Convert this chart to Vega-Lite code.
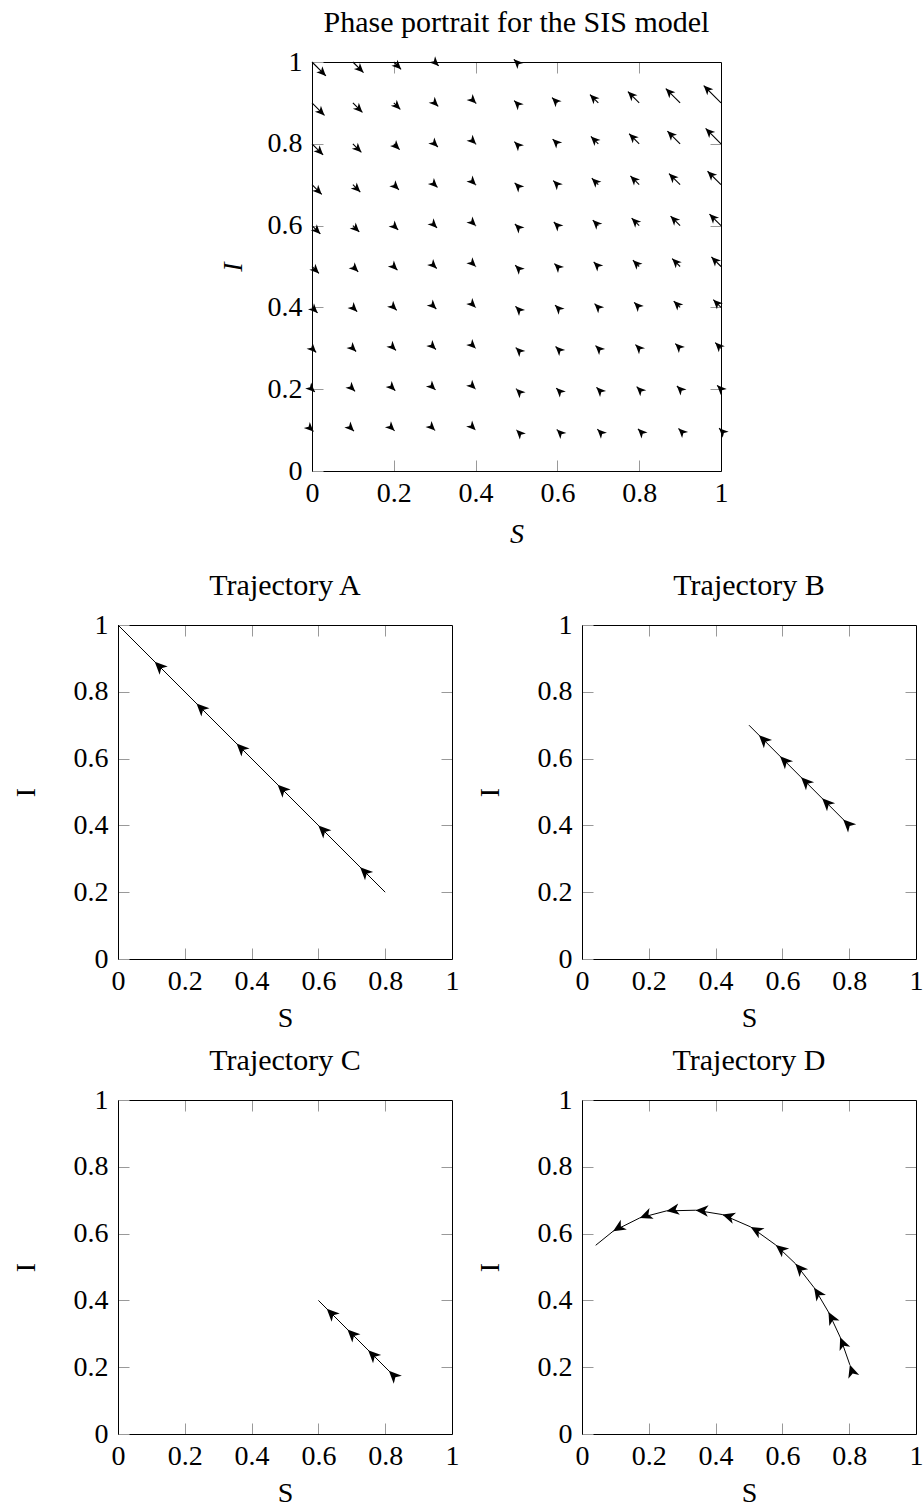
{
  "$schema": "https://vega.github.io/schema/vega-lite/v6.json",
  "padding": {"left": 12, "top": 8, "right": 0, "bottom": 0},
  "config": {
    "font": "Liberation Serif",
    "view": {"stroke": null},
    "axis": {"labelFontSize": 28, "titleFontSize": 28, "titleFontWeight": "normal", "labelColor": "#000", "titleColor": "#000", "domainColor": "#000", "domainWidth": 1, "tickColor": "#999", "tickWidth": 1, "tickSize": -11, "grid": false, "labelFlush": false, "labelOverlap": false, "labelBound": false},
    "axisBottom": {"labelPadding": 19},
    "axisLeft": {"labelPadding": 21},
    "title": {"fontSize": 30, "fontWeight": "normal", "color": "#000", "frame": "group", "baseline": "alphabetic", "offset": 10}
  },
  "datasets": {
    "quiver": [
      {"S":0,"I":0.1,"S2":0.0034,"I2":0.0966},{"S":0,"I":0.2,"S2":0.0068,"I2":0.1932},{"S":0,"I":0.3,"S2":0.0102,"I2":0.2898},{"S":0,"I":0.4,"S2":0.0136,"I2":0.3864},{"S":0,"I":0.5,"S2":0.017,"I2":0.483},{"S":0,"I":0.6,"S2":0.0204,"I2":0.5796},{"S":0,"I":0.7,"S2":0.0238,"I2":0.6762},{"S":0,"I":0.8,"S2":0.0272,"I2":0.7728},{"S":0,"I":0.9,"S2":0.0306,"I2":0.8694},{"S":0,"I":1,"S2":0.034,"I2":0.966},
      {"S":0.1,"I":0.1,"S2":0.1026,"I2":0.0974},{"S":0.1,"I":0.2,"S2":0.1052,"I2":0.1948},{"S":0.1,"I":0.3,"S2":0.1078,"I2":0.2922},{"S":0.1,"I":0.4,"S2":0.1104,"I2":0.3896},{"S":0.1,"I":0.5,"S2":0.113,"I2":0.487},{"S":0.1,"I":0.6,"S2":0.1156,"I2":0.5844},{"S":0.1,"I":0.7,"S2":0.1181,"I2":0.6819},{"S":0.1,"I":0.8,"S2":0.1207,"I2":0.7793},{"S":0.1,"I":0.9,"S2":0.1233,"I2":0.8767},{"S":0.1,"I":1,"S2":0.1259,"I2":0.9741},
      {"S":0.2,"I":0.1,"S2":0.2018,"I2":0.0982},{"S":0.2,"I":0.2,"S2":0.2036,"I2":0.1964},{"S":0.2,"I":0.3,"S2":0.2053,"I2":0.2947},{"S":0.2,"I":0.4,"S2":0.2071,"I2":0.3929},{"S":0.2,"I":0.5,"S2":0.2089,"I2":0.4911},{"S":0.2,"I":0.6,"S2":0.2107,"I2":0.5893},{"S":0.2,"I":0.7,"S2":0.2125,"I2":0.6875},{"S":0.2,"I":0.8,"S2":0.2143,"I2":0.7857},{"S":0.2,"I":0.9,"S2":0.216,"I2":0.884},{"S":0.2,"I":1,"S2":0.2178,"I2":0.9822},
      {"S":0.3,"I":0.1,"S2":0.301,"I2":0.099},{"S":0.3,"I":0.2,"S2":0.3019,"I2":0.1981},{"S":0.3,"I":0.3,"S2":0.3029,"I2":0.2971},{"S":0.3,"I":0.4,"S2":0.3039,"I2":0.3961},{"S":0.3,"I":0.5,"S2":0.3049,"I2":0.4951},{"S":0.3,"I":0.6,"S2":0.3058,"I2":0.5942},{"S":0.3,"I":0.7,"S2":0.3068,"I2":0.6932},{"S":0.3,"I":0.8,"S2":0.3078,"I2":0.7922},{"S":0.3,"I":0.9,"S2":0.3087,"I2":0.8913},{"S":0.3,"I":1,"S2":0.3097,"I2":0.9903},
      {"S":0.4,"I":0.1,"S2":0.4002,"I2":0.0998},{"S":0.4,"I":0.2,"S2":0.4003,"I2":0.1997},{"S":0.4,"I":0.3,"S2":0.4005,"I2":0.2995},{"S":0.4,"I":0.4,"S2":0.4006,"I2":0.3994},{"S":0.4,"I":0.5,"S2":0.4008,"I2":0.4992},{"S":0.4,"I":0.6,"S2":0.401,"I2":0.599},{"S":0.4,"I":0.7,"S2":0.4011,"I2":0.6989},{"S":0.4,"I":0.8,"S2":0.4013,"I2":0.7987},{"S":0.4,"I":0.9,"S2":0.4015,"I2":0.8985},
      {"S":0.5,"I":0.1,"S2":0.4994,"I2":0.1006},{"S":0.5,"I":0.2,"S2":0.4987,"I2":0.2013},{"S":0.5,"I":0.3,"S2":0.4981,"I2":0.3019},{"S":0.5,"I":0.4,"S2":0.4974,"I2":0.4026},{"S":0.5,"I":0.5,"S2":0.4968,"I2":0.5032},{"S":0.5,"I":0.6,"S2":0.4961,"I2":0.6039},{"S":0.5,"I":0.7,"S2":0.4955,"I2":0.7045},{"S":0.5,"I":0.8,"S2":0.4948,"I2":0.8052},{"S":0.5,"I":0.9,"S2":0.4942,"I2":0.9058},{"S":0.5,"I":1,"S2":0.4935,"I2":1.0065},
      {"S":0.6,"I":0.1,"S2":0.5985,"I2":0.1015},{"S":0.6,"I":0.2,"S2":0.5971,"I2":0.2029},{"S":0.6,"I":0.3,"S2":0.5956,"I2":0.3044},{"S":0.6,"I":0.4,"S2":0.5942,"I2":0.4058},{"S":0.6,"I":0.5,"S2":0.5927,"I2":0.5073},{"S":0.6,"I":0.6,"S2":0.5912,"I2":0.6088},{"S":0.6,"I":0.7,"S2":0.5898,"I2":0.7102},{"S":0.6,"I":0.8,"S2":0.5883,"I2":0.8117},{"S":0.6,"I":0.9,"S2":0.5869,"I2":0.9131},
      {"S":0.7,"I":0.1,"S2":0.6977,"I2":0.1023},{"S":0.7,"I":0.2,"S2":0.6955,"I2":0.2045},{"S":0.7,"I":0.3,"S2":0.6932,"I2":0.3068},{"S":0.7,"I":0.4,"S2":0.6909,"I2":0.4091},{"S":0.7,"I":0.5,"S2":0.6887,"I2":0.5113},{"S":0.7,"I":0.6,"S2":0.6864,"I2":0.6136},{"S":0.7,"I":0.7,"S2":0.6841,"I2":0.7159},{"S":0.7,"I":0.8,"S2":0.6819,"I2":0.8181},{"S":0.7,"I":0.9,"S2":0.6796,"I2":0.9204},
      {"S":0.8,"I":0.1,"S2":0.7969,"I2":0.1031},{"S":0.8,"I":0.2,"S2":0.7938,"I2":0.2062},{"S":0.8,"I":0.3,"S2":0.7908,"I2":0.3092},{"S":0.8,"I":0.4,"S2":0.7877,"I2":0.4123},{"S":0.8,"I":0.5,"S2":0.7846,"I2":0.5154},{"S":0.8,"I":0.6,"S2":0.7815,"I2":0.6185},{"S":0.8,"I":0.7,"S2":0.7785,"I2":0.7215},{"S":0.8,"I":0.8,"S2":0.7754,"I2":0.8246},{"S":0.8,"I":0.9,"S2":0.7723,"I2":0.9277},
      {"S":0.9,"I":0.1,"S2":0.8961,"I2":0.1039},{"S":0.9,"I":0.2,"S2":0.8922,"I2":0.2078},{"S":0.9,"I":0.3,"S2":0.8883,"I2":0.3117},{"S":0.9,"I":0.4,"S2":0.8844,"I2":0.4156},{"S":0.9,"I":0.5,"S2":0.8806,"I2":0.5194},{"S":0.9,"I":0.6,"S2":0.8767,"I2":0.6233},{"S":0.9,"I":0.7,"S2":0.8728,"I2":0.7272},{"S":0.9,"I":0.8,"S2":0.8689,"I2":0.8311},{"S":0.9,"I":0.9,"S2":0.865,"I2":0.935},
      {"S":1,"I":0.1,"S2":0.9953,"I2":0.1047},{"S":1,"I":0.2,"S2":0.9906,"I2":0.2094},{"S":1,"I":0.3,"S2":0.9859,"I2":0.3141},{"S":1,"I":0.4,"S2":0.9812,"I2":0.4188},{"S":1,"I":0.5,"S2":0.9765,"I2":0.5235},{"S":1,"I":0.6,"S2":0.9718,"I2":0.6282},{"S":1,"I":0.7,"S2":0.9671,"I2":0.7329},{"S":1,"I":0.8,"S2":0.9624,"I2":0.8376},{"S":1,"I":0.9,"S2":0.9577,"I2":0.9423}
    ],
    "lineA": [{"k":0,"S":0.8,"I":0.2},{"k":1,"S":0,"I":1}],
    "arrowsA": [{"S":0.11,"I":0.89,"heading":-45},{"S":0.235,"I":0.765,"heading":-45},{"S":0.355,"I":0.645,"heading":-45},{"S":0.478,"I":0.522,"heading":-45},{"S":0.6,"I":0.4,"heading":-45},{"S":0.725,"I":0.275,"heading":-45}],
    "lineB": [{"k":0,"S":0.795,"I":0.405},{"k":1,"S":0.5,"I":0.7}],
    "arrowsB": [{"S":0.53,"I":0.67,"heading":-45},{"S":0.593,"I":0.607,"heading":-45},{"S":0.656,"I":0.544,"heading":-45},{"S":0.719,"I":0.481,"heading":-45},{"S":0.782,"I":0.418,"heading":-45}],
    "lineC": [{"k":0,"S":0.82,"I":0.18},{"k":1,"S":0.6,"I":0.4}],
    "arrowsC": [{"S":0.625,"I":0.375,"heading":-45},{"S":0.687,"I":0.313,"heading":-45},{"S":0.749,"I":0.251,"heading":-45},{"S":0.811,"I":0.189,"heading":-45}],
    "lineD": [{"k":0,"S":0.802,"I":0.207},{"k":1,"S":0.773,"I":0.29},{"k":2,"S":0.738,"I":0.365},{"k":3,"S":0.695,"I":0.438},{"k":4,"S":0.639,"I":0.51},{"k":5,"S":0.58,"I":0.566},{"k":6,"S":0.505,"I":0.62},{"k":7,"S":0.42,"I":0.657},{"k":8,"S":0.34,"I":0.67},{"k":9,"S":0.253,"I":0.668},{"k":10,"S":0.173,"I":0.647},{"k":11,"S":0.093,"I":0.607},{"k":12,"S":0.041,"I":0.565}],
    "arrowsD": [{"S":0.802,"I":0.207,"heading":-18},{"S":0.773,"I":0.29,"heading":-22},{"S":0.738,"I":0.365,"heading":-28},{"S":0.695,"I":0.438,"heading":-34},{"S":0.639,"I":0.51,"heading":-42},{"S":0.58,"I":0.566,"heading":-51},{"S":0.505,"I":0.62,"heading":-60},{"S":0.42,"I":0.657,"heading":-73},{"S":0.34,"I":0.67,"heading":-86},{"S":0.253,"I":0.668,"heading":-98},{"S":0.173,"I":0.647,"heading":-111},{"S":0.093,"I":0.607,"heading":-122}]
  },
  "columns": 2,
  "align": "each",
  "bounds": "flush",
  "spacing": {"row": 141, "column": 130},
  "concat": [
    {
      "width": 64, "height": 422,
      "data": {"values": [{"v": 0}]},
      "mark": {"type": "point", "opacity": 0}
    },
    {
      "width": 139, "height": 422,
      "title": {"text": "Phase portrait for the SIS model", "dx": -135},
      "data": {"name": "quiver"},
      "layer": [
        {
          "mark": {"type": "rule", "color": "#000", "strokeWidth": 1.1},
          "encoding": {
            "x": {"field": "S", "type": "quantitative", "scale": {"domain": [0, 1], "nice": false, "zero": false, "range": [-270, 139]},
                  "axis": {"orient": "bottom", "offset": -13, "values": [0, 0.2, 0.4, 0.6, 0.8, 1], "format": "~g", "title": "S", "titleFontStyle": "italic", "titleY": 71, "titleBaseline": "alphabetic"}},
            "y": {"field": "I", "type": "quantitative", "scale": {"domain": [0, 1], "nice": false, "zero": false, "range": [409, 0]},
                  "axis": {"orient": "left", "offset": 270, "values": [0, 0.2, 0.4, 0.6, 0.8, 1], "format": "~g", "title": "I", "titleFontStyle": "italic", "titleX": -71, "titleY": 204.5, "titleAlign": "center", "titleBaseline": "alphabetic", "titleAngle": -90}},
            "x2": {"field": "S2"},
            "y2": {"field": "I2"}
          }
        },
        {
          "mark": {"type": "point", "shape": "M0,0L-1,2.2L0,1.6L1,2.2Z", "filled": true, "color": "#000", "opacity": 1, "size": 72, "strokeWidth": 0},
          "encoding": {
            "x": {"field": "S2", "type": "quantitative", "scale": {"domain": [0, 1], "nice": false, "zero": false, "range": [-270, 139]},
                  "axis": {"orient": "top", "values": [0.2, 0.4, 0.6, 0.8], "labels": false, "title": null}},
            "y": {"field": "I2", "type": "quantitative", "scale": {"domain": [0, 1], "nice": false, "zero": false, "range": [409, 0]},
                  "axis": {"orient": "right", "values": [0.2, 0.4, 0.6, 0.8], "labels": false, "title": null}},
            "angle": {"condition": {"test": "datum.S2 > datum.S", "value": 135}, "value": 315}
          }
        }
      ],
      "resolve": {"axis": {"x": "independent", "y": "independent"}}
    },
    {
      "width": 334, "height": 334,
      "title": {"text": "Trajectory A"},
      "layer": [
        {
          "data": {"name": "lineA"},
          "mark": {"type": "line", "color": "#000", "strokeWidth": 1},
          "encoding": {
            "x": {"field": "S", "type": "quantitative", "scale": {"domain": [0, 1], "nice": false, "zero": false},
                  "axis": {"orient": "bottom", "values": [0, 0.2, 0.4, 0.6, 0.8, 1], "format": "~g", "title": "S", "titleY": 67, "titleBaseline": "alphabetic"}},
            "y": {"field": "I", "type": "quantitative", "scale": {"domain": [0, 1], "nice": false, "zero": false},
                  "axis": {"orient": "left", "values": [0, 0.2, 0.4, 0.6, 0.8, 1], "format": "~g", "title": "I", "titleX": -84, "titleY": 167, "titleAlign": "center", "titleBaseline": "alphabetic", "titleAngle": -90}},
            "order": {"field": "k"}
          }
        },
        {
          "data": {"name": "arrowsA"},
          "mark": {"type": "point", "shape": "M0,0L-1,2.2L0,1.6L1,2.2Z", "filled": true, "color": "#000", "opacity": 1, "size": 132, "strokeWidth": 0},
          "encoding": {
            "x": {"field": "S", "type": "quantitative", "scale": {"domain": [0, 1], "nice": false, "zero": false},
                  "axis": {"orient": "top", "values": [0.2, 0.4, 0.6, 0.8], "labels": false, "title": null}},
            "y": {"field": "I", "type": "quantitative", "scale": {"domain": [0, 1], "nice": false, "zero": false},
                  "axis": {"orient": "right", "values": [0.2, 0.4, 0.6, 0.8], "labels": false, "title": null}},
            "angle": {"field": "heading", "type": "quantitative", "scale": null}
          }
        }
      ],
      "resolve": {"axis": {"x": "independent", "y": "independent"}}
    },
    {
      "width": 334, "height": 334,
      "title": {"text": "Trajectory B"},
      "layer": [
        {
          "data": {"name": "lineB"},
          "mark": {"type": "line", "color": "#000", "strokeWidth": 1},
          "encoding": {
            "x": {"field": "S", "type": "quantitative", "scale": {"domain": [0, 1], "nice": false, "zero": false},
                  "axis": {"orient": "bottom", "values": [0, 0.2, 0.4, 0.6, 0.8, 1], "format": "~g", "title": "S", "titleY": 67, "titleBaseline": "alphabetic"}},
            "y": {"field": "I", "type": "quantitative", "scale": {"domain": [0, 1], "nice": false, "zero": false},
                  "axis": {"orient": "left", "values": [0, 0.2, 0.4, 0.6, 0.8, 1], "format": "~g", "title": "I", "titleX": -84, "titleY": 167, "titleAlign": "center", "titleBaseline": "alphabetic", "titleAngle": -90}},
            "order": {"field": "k"}
          }
        },
        {
          "data": {"name": "arrowsB"},
          "mark": {"type": "point", "shape": "M0,0L-1,2.2L0,1.6L1,2.2Z", "filled": true, "color": "#000", "opacity": 1, "size": 132, "strokeWidth": 0},
          "encoding": {
            "x": {"field": "S", "type": "quantitative", "scale": {"domain": [0, 1], "nice": false, "zero": false},
                  "axis": {"orient": "top", "values": [0.2, 0.4, 0.6, 0.8], "labels": false, "title": null}},
            "y": {"field": "I", "type": "quantitative", "scale": {"domain": [0, 1], "nice": false, "zero": false},
                  "axis": {"orient": "right", "values": [0.2, 0.4, 0.6, 0.8], "labels": false, "title": null}},
            "angle": {"field": "heading", "type": "quantitative", "scale": null}
          }
        }
      ],
      "resolve": {"axis": {"x": "independent", "y": "independent"}}
    },
    {
      "width": 334, "height": 334,
      "title": {"text": "Trajectory C"},
      "layer": [
        {
          "data": {"name": "lineC"},
          "mark": {"type": "line", "color": "#000", "strokeWidth": 1},
          "encoding": {
            "x": {"field": "S", "type": "quantitative", "scale": {"domain": [0, 1], "nice": false, "zero": false},
                  "axis": {"orient": "bottom", "values": [0, 0.2, 0.4, 0.6, 0.8, 1], "format": "~g", "title": "S", "titleY": 67, "titleBaseline": "alphabetic"}},
            "y": {"field": "I", "type": "quantitative", "scale": {"domain": [0, 1], "nice": false, "zero": false},
                  "axis": {"orient": "left", "values": [0, 0.2, 0.4, 0.6, 0.8, 1], "format": "~g", "title": "I", "titleX": -84, "titleY": 167, "titleAlign": "center", "titleBaseline": "alphabetic", "titleAngle": -90}},
            "order": {"field": "k"}
          }
        },
        {
          "data": {"name": "arrowsC"},
          "mark": {"type": "point", "shape": "M0,0L-1,2.2L0,1.6L1,2.2Z", "filled": true, "color": "#000", "opacity": 1, "size": 132, "strokeWidth": 0},
          "encoding": {
            "x": {"field": "S", "type": "quantitative", "scale": {"domain": [0, 1], "nice": false, "zero": false},
                  "axis": {"orient": "top", "values": [0.2, 0.4, 0.6, 0.8], "labels": false, "title": null}},
            "y": {"field": "I", "type": "quantitative", "scale": {"domain": [0, 1], "nice": false, "zero": false},
                  "axis": {"orient": "right", "values": [0.2, 0.4, 0.6, 0.8], "labels": false, "title": null}},
            "angle": {"field": "heading", "type": "quantitative", "scale": null}
          }
        }
      ],
      "resolve": {"axis": {"x": "independent", "y": "independent"}}
    },
    {
      "width": 334, "height": 334,
      "title": {"text": "Trajectory D"},
      "layer": [
        {
          "data": {"name": "lineD"},
          "mark": {"type": "line", "color": "#000", "strokeWidth": 1},
          "encoding": {
            "x": {"field": "S", "type": "quantitative", "scale": {"domain": [0, 1], "nice": false, "zero": false},
                  "axis": {"orient": "bottom", "values": [0, 0.2, 0.4, 0.6, 0.8, 1], "format": "~g", "title": "S", "titleY": 67, "titleBaseline": "alphabetic"}},
            "y": {"field": "I", "type": "quantitative", "scale": {"domain": [0, 1], "nice": false, "zero": false},
                  "axis": {"orient": "left", "values": [0, 0.2, 0.4, 0.6, 0.8, 1], "format": "~g", "title": "I", "titleX": -84, "titleY": 167, "titleAlign": "center", "titleBaseline": "alphabetic", "titleAngle": -90}},
            "order": {"field": "k"}
          }
        },
        {
          "data": {"name": "arrowsD"},
          "mark": {"type": "point", "shape": "M0,0L-1,2.2L0,1.6L1,2.2Z", "filled": true, "color": "#000", "opacity": 1, "size": 132, "strokeWidth": 0},
          "encoding": {
            "x": {"field": "S", "type": "quantitative", "scale": {"domain": [0, 1], "nice": false, "zero": false},
                  "axis": {"orient": "top", "values": [0.2, 0.4, 0.6, 0.8], "labels": false, "title": null}},
            "y": {"field": "I", "type": "quantitative", "scale": {"domain": [0, 1], "nice": false, "zero": false},
                  "axis": {"orient": "right", "values": [0.2, 0.4, 0.6, 0.8], "labels": false, "title": null}},
            "angle": {"field": "heading", "type": "quantitative", "scale": null}
          }
        }
      ],
      "resolve": {"axis": {"x": "independent", "y": "independent"}}
    }
  ]
}
